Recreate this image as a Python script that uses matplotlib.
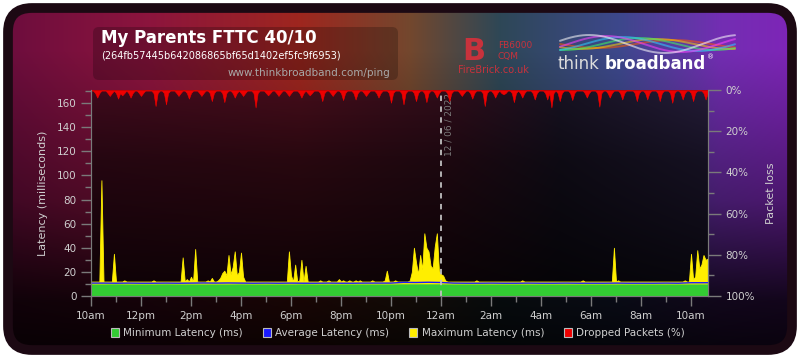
import numpy as np
import matplotlib
matplotlib.use("Agg")
import matplotlib.pyplot as plt
from matplotlib.patches import FancyBboxPatch, Patch
from matplotlib.ticker import MultipleLocator

# ---------------- data ----------------
# 5-minute samples, hours since 10am
max_latency = [
    12,12,12,12,12,96,12,12,12,12,12,35,
    12,12,12,12,13,12,12,12,12,12,12,12,
    12,12,12,12,12,12,13,12,12,12,12,12,
    12,12,12,12,12,12,12,12,32,12,14,12,
    16,12,39,12,12,12,12,12,13,12,15,12,
    12,13,15,19,21,17,34,18,24,37,17,20,
    36,16,12,12,12,12,12,12,12,12,12,12,
    12,12,12,12,12,12,12,12,12,12,12,37,
    17,12,26,12,13,30,12,25,12,12,12,12,
    12,12,13,12,12,12,13,12,12,12,12,14,
    12,13,12,12,13,12,12,13,12,13,12,12,
    12,12,12,13,12,12,12,12,12,13,21,12,
    12,12,13,12,12,12,12,12,12,13,20,40,
    28,18,34,22,52,40,37,25,23,41,52,21,
    18,17,13,12,12,12,12,12,12,12,12,12,
    12,12,12,12,12,13,12,12,12,12,12,12,
    12,12,12,12,12,12,12,12,12,12,12,12,
    12,12,12,13,12,12,12,12,12,12,12,12,
    12,12,12,12,12,12,12,12,12,12,12,12,
    12,12,12,12,12,12,12,12,13,12,12,12,
    12,12,12,12,12,12,12,12,12,12,12,40,
    12,13,12,12,12,12,12,12,12,12,12,12,
    12,12,12,12,12,12,12,12,12,12,12,12,
    12,12,12,12,12,12,12,12,12,13,12,12,
    35,14,16,38,23,26,34,30,31,
]
dropped_packets = [
    0.3,0.3,1.5,3.7,1.5,0.3,0.3,0.3,1.5,2.9,1.5,0.3,
    1.5,4.2,1.5,2.6,1.5,0.3,1.5,3.7,1.5,0.3,0.3,1.5,
    2.9,1.5,0.3,0.3,0.3,0.3,1.5,7.8,1.5,0.3,0.3,1.5,
    7.0,1.5,0.3,0.3,0.3,1.5,2.9,1.5,0.3,0.3,1.5,4.2,
    1.5,0.3,0.3,0.3,1.5,2.9,1.5,0.3,0.3,1.5,5.4,1.5,
    0.3,0.3,0.3,1.5,5.9,1.5,0.3,0.3,1.5,3.7,1.5,0.3,
    1.5,2.9,1.5,0.3,0.3,0.3,1.5,8.5,1.5,0.3,0.3,0.3,
    1.5,2.6,1.5,0.3,0.3,1.5,2.9,1.5,0.3,0.3,1.5,2.9,
    1.5,0.3,0.3,0.3,1.5,3.7,1.5,0.3,1.5,2.6,1.5,0.3,
    0.3,0.3,1.5,5.4,1.5,0.3,0.3,1.5,2.9,1.5,0.3,0.3,
    1.5,4.9,1.5,0.3,0.3,0.3,1.5,4.6,1.5,0.3,0.3,1.5,
    2.9,1.5,0.3,0.3,0.3,1.5,3.7,1.5,0.3,0.3,0.3,1.5,
    6.2,1.5,0.3,0.3,0.3,1.5,7.0,1.5,0.3,0.3,0.3,1.5,
    5.4,1.5,0.3,0.3,1.5,5.9,1.5,0.3,0.3,1.5,3.7,1.5,
    0.3,0.3,0.3,1.5,5.4,1.5,0.3,0.3,0.3,1.5,2.9,1.5,
    0.3,0.3,1.5,4.2,1.5,0.3,0.3,0.3,1.5,7.8,1.5,0.3,
    0.3,1.5,3.7,1.5,0.3,1.5,2.1,1.5,0.3,0.3,1.5,5.9,
    1.5,0.3,1.5,3.7,1.5,0.3,0.3,0.3,1.5,4.6,1.5,0.3,
    0.3,0.3,1.5,4.6,1.5,8.5,1.5,0.3,1.5,5.4,1.5,0.3,
    0.3,0.3,1.5,4.9,1.5,0.3,0.3,0.3,0.3,1.5,3.7,1.5,
    0.3,0.3,0.3,1.5,8.1,1.5,0.3,0.3,1.5,3.7,1.5,0.3,
    0.3,0.3,1.5,4.6,1.5,0.3,0.3,0.3,0.3,1.5,5.4,1.5,
    0.3,0.3,1.5,4.6,1.5,0.3,0.3,0.3,1.5,5.4,1.5,0.3,
    0.3,0.3,1.5,6.2,1.5,0.3,0.3,1.5,4.6,1.5,0.3,0.3,
    1.5,5.4,1.5,0.3,0.3,0.3,1.5,4.6,1.5,
]
# half-hourly samples
min_latency = [
    10.0,10.0,10.1,10.0,10.0,10.0,10.1,10.0,10.0,10.0,
    10.0,10.0,10.1,10.0,10.0,10.0,10.0,10.1,10.0,10.0,
    10.0,10.0,10.0,10.0,10.0,10.1,10.1,10.1,10.1,10.0,
    10.0,10.0,10.0,10.0,10.0,10.0,10.0,10.0,10.0,10.0,
    10.0,10.0,10.0,10.0,10.0,10.0,10.0,10.0,10.0,10.0,10.0,
]
avg_latency = [
    10.7,10.7,10.6,10.7,10.6,10.6,10.7,10.6,10.7,10.8,
    10.7,10.8,10.7,10.6,10.7,10.6,10.7,10.6,10.6,10.7,
    10.6,10.6,10.7,10.7,10.7,11.3,11.2,11.4,11.2,10.7,
    10.6,10.6,10.7,10.6,10.6,10.7,10.6,10.6,10.7,10.6,
    10.6,10.6,10.7,10.6,10.6,10.6,10.7,10.6,11.0,11.0,11.0,
]
xtick_labels = ['10am','12pm','2pm','4pm','6pm','8pm','10pm',
                '12am','2am','4am','6am','8am','10am']
legend_labels = ['Minimum Latency (ms)', 'Average Latency (ms)',
                 'Maximum Latency (ms)', 'Dropped Packets (%)']

t5 = np.arange(len(max_latency)) / 12.0
t30 = np.arange(len(min_latency)) / 2.0

# ---------------- colours ----------------
C_MIN = '#33cc33'
C_AVG = '#1a1aff'
C_MAX = '#ffee00'
C_LOSS = '#ee0000'
TXT = '#cfcfcf'
AX = '#7a7a7a'

W, H = 800, 358
fig = plt.figure(figsize=(8, 3.58), dpi=100, facecolor='white')

# ---------------- background ----------------
bg = fig.add_axes([0, 0, 1, 1])
bg.set_xlim(0, W); bg.set_ylim(H, 0); bg.axis('off')
xs = np.arange(W); ys = np.arange(H)
ax_anchor = [0, 150, 300, 410, 500, 620, 720, 800]
cols = np.array([
    [0.42, 0.05, 0.24],
    [0.55, 0.08, 0.24],
    [0.62, 0.15, 0.12],
    [0.45, 0.28, 0.18],
    [0.18, 0.28, 0.34],
    [0.24, 0.28, 0.55],
    [0.45, 0.18, 0.70],
    [0.50, 0.14, 0.72],
])
top = np.stack([np.interp(xs, ax_anchor, cols[:, c]) for c in range(3)], axis=1)
f = np.interp(ys, [0, 50, 200, 300, 358], [1.0, 1.0, 0.6, 0.15, 0.06])
img = np.clip(f[:, None, None] * top[None, :, :], 0, 1)
im = bg.imshow(img, extent=[0, W, H, 0], aspect='auto', zorder=0)
frame = FancyBboxPatch((8, 8), 784, 342, boxstyle='round,pad=0,rounding_size=24',
                       facecolor='none', edgecolor='#1c0913', linewidth=7, zorder=2)
bg.add_patch(frame)
im.set_clip_path(frame)

# plot-area background
PX0, PX1, PY0, PY1 = 91, 708, 90, 296
pxs = np.arange(PX0, PX1)
pys = np.arange(PY0, PY1)
p_anchor = [91, 300, 450, 560, 708]
pcols = np.array([
    [0.24, 0.04, 0.11],
    [0.26, 0.05, 0.10],
    [0.18, 0.05, 0.10],
    [0.09, 0.07, 0.13],
    [0.14, 0.11, 0.22],
])
ptop = np.stack([np.interp(pxs, p_anchor, pcols[:, c]) for c in range(3)], axis=1)
pf = np.interp(pys, [90, 160, 296], [1.0, 0.6, 0.2])
pimg = np.clip(pf[:, None, None] * ptop[None, :, :], 0, 1)
bg.imshow(pimg, extent=[PX0, PX1, PY1, PY0], aspect='auto', zorder=1)
bg.set_xlim(0, W); bg.set_ylim(H, 0)

# title box
bg.add_patch(FancyBboxPatch((93, 27), 305, 53, boxstyle='round,pad=0,rounding_size=6',
                            facecolor=(0, 0, 0, 0.22), edgecolor='none', zorder=3))
bg.text(101, 38, 'My Parents FTTC 40/10', color='white', fontsize=12, fontweight='bold',
        va='center', ha='left', zorder=4)
bg.text(101, 55, '(264fb57445b642086865bf65d1402ef5fc9f6953)', color='white', fontsize=7,
        va='center', ha='left', zorder=4)
bg.text(390, 73, 'www.thinkbroadband.com/ping', color='#a8a8a8', fontsize=7.5,
        va='center', ha='right', zorder=4)

# FireBrick logo
bg.text(474, 52, 'B', color='#c8323c', fontsize=22, fontweight='bold', va='center',
        ha='center', zorder=4)
bg.text(498, 45, 'FB6000', color='#c8323c', fontsize=6.5, va='center', ha='left', zorder=4)
bg.text(498, 56, 'CQM', color='#c8323c', fontsize=6.5, va='center', ha='left', zorder=4)
bg.text(458, 70, 'FireBrick.co.uk', color='#c8323c', fontsize=7, va='center', ha='left', zorder=4)

# thinkbroadband logo swirl
sx = np.linspace(560, 735, 200)
sw_cols = ['#ff5a00', '#ffd000', '#40ff60', '#30d0ff', '#ff40ff', '#ffffff']
for k, c in enumerate(sw_cols):
    sy = 44 + (4 + k) * np.sin((sx - 560) / 24.0 + k * 0.7)
    bg.plot(sx, sy, color=c, lw=1.4, alpha=0.55, zorder=3, solid_capstyle='round')
bg.text(558, 64, 'think', color='#dcdcdc', fontsize=12, va='center', ha='left', zorder=4)
bg.text(605, 64, 'broadband', color='white', fontsize=12, fontweight='bold', va='center',
        ha='left', zorder=4)
bg.text(707, 57, '®', color='white', fontsize=5, va='center', ha='left', zorder=4)

# ---------------- main plot ----------------
ax = fig.add_axes([PX0 / W, 1 - PY1 / H, (PX1 - PX0) / W, (PY1 - PY0) / H])
ax.set_facecolor('none')
ax.set_xlim(0, 24.68)
ax.set_ylim(0, 170.8)

ax.fill_between(t5, 0, max_latency, color=C_MAX, lw=0.6, edgecolor=C_MAX, zorder=2)
ax.fill_between(t30, 0, min_latency, color=C_MIN, lw=0, zorder=3)
ax.plot(t30, avg_latency, color=C_AVG, lw=1.0, zorder=4)
ax.axvline(14, color='#c0c0c0', ls=(0, (3, 3)), lw=1.3, zorder=5)
ax.text(14.33, 168, '12 / 06 / 2022', rotation=90, va='top', ha='center',
        color='#7c7c7c', fontsize=6.5, zorder=5)

ax.set_xticks(np.arange(0, 25, 2))
ax.set_xticklabels(xtick_labels)
ax.xaxis.set_minor_locator(MultipleLocator(1))
ax.set_yticks(np.arange(0, 161, 20))
ax.yaxis.set_minor_locator(MultipleLocator(10))
ax.tick_params(which='both', colors=AX, labelcolor=TXT, labelsize=7.5, direction='out')
ax.tick_params(which='major', length=7, width=1)
ax.tick_params(which='minor', length=4, width=1)
ax.tick_params(axis='x', which='major', pad=4)
for s in ['left', 'bottom', 'right']:
    ax.spines[s].set_color(AX)
ax.spines['top'].set_visible(False)
ax.set_ylabel('Latency (milliseconds)', color=TXT, fontsize=8, labelpad=6)

ax2 = ax.twinx()
ax2.set_ylim(100, 0)
ax2.fill_between(t5, 0, dropped_packets, color=C_LOSS, lw=0.4, edgecolor=C_LOSS, zorder=2)
ax2.set_yticks(np.arange(0, 101, 20))
ax2.set_yticklabels([f'{v}%' for v in range(0, 101, 20)])
ax2.yaxis.set_minor_locator(MultipleLocator(10))
ax2.tick_params(which='both', colors=AX, labelcolor=TXT, labelsize=7.5, direction='out')
ax2.tick_params(which='major', length=9, width=1)
ax2.tick_params(which='minor', length=4, width=1)
for s in ['left', 'bottom', 'right']:
    ax2.spines[s].set_color(AX)
ax2.spines['top'].set_visible(False)
ax2.set_ylabel('Packet loss', color=TXT, fontsize=8, labelpad=8)

handles = [Patch(facecolor=c, edgecolor='#bbbbbb', lw=0.8)
           for c in [C_MIN, C_AVG, C_MAX, C_LOSS]]
fig.legend(handles, legend_labels, loc='center', bbox_to_anchor=(0.4975, 1 - 333 / H),
           ncol=4, frameon=False, fontsize=7.5, handlelength=0.8, handleheight=0.9,
           handletextpad=0.4, columnspacing=1.9, labelcolor=TXT)

fig.savefig('out.png', dpi=100, facecolor='white')
